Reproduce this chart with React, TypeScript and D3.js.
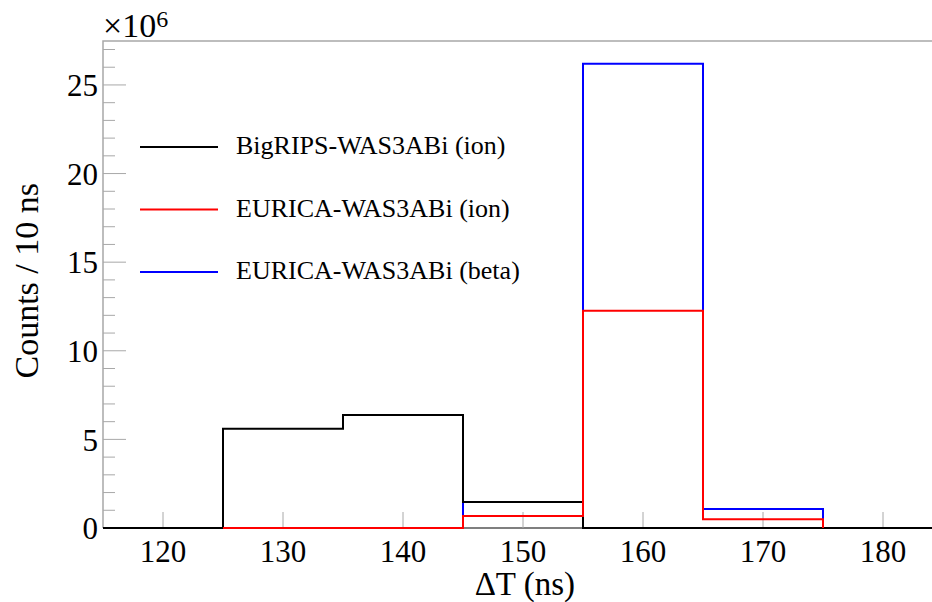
// ΔT histograms: BigRIPS / EURICA vs WAS3ABi
import React, { useEffect, useRef } from 'react';
import * as d3 from 'd3';

// bin edges (ns)
const blackEdges = [115, 125, 135, 145, 155, 165, 175, 185];
const blackCounts = [0, 5.6, 6.38, 1.47, 0, 0, 0]; // x10^6
const euricaEdges = [125, 135, 145, 155, 165, 175];
const redCounts = [0, 0, 0.68, 12.26, 0.5];
const blueCounts = [0, 0, 1.47, 26.2, 1.07];

const xTicks = [120, 130, 140, 150, 160, 170, 180];
const yMajor = [0, 5, 10, 15, 20, 25];

const legendItems = [
  { label: 'BigRIPS-WAS3ABi (ion)', color: '#000000' },
  { label: 'EURICA-WAS3ABi (ion)', color: '#ff0000' },
  { label: 'EURICA-WAS3ABi (beta)', color: '#0000ff' },
];

const width = 932;
const height = 602;
const font = "'Times New Roman', Times, 'Liberation Serif', 'DejaVu Serif', serif";

export default function App() {
  const svgRef = useRef<SVGSVGElement>(null);

  useEffect(() => {
    const svg = d3.select(svgRef.current);
    svg.selectAll('*').remove();

    const left = 103, right = 943, top = 41, bottom = 528;
    const x = d3.scaleLinear().domain([115, 185]).range([left, right]);
    const y = d3.scaleLinear().domain([0, 27.48]).range([bottom, top]);
    const grey = '#a8a8a8';

    // frame
    svg.append('path')
      .attr('d', `M${left},${bottom}V${top}H${right}`)
      .attr('fill', 'none').attr('stroke', grey).attr('stroke-width', 1.5);
    svg.append('line')
      .attr('x1', left).attr('x2', right).attr('y1', bottom).attr('y2', bottom)
      .attr('stroke', '#555').attr('stroke-width', 1.5);

    // y ticks
    const yMinor = d3.range(0, 28, 1);
    svg.append('g').selectAll('line').data(yMinor).join('line')
      .attr('x1', left).attr('x2', d => (d % 5 === 0 ? left + 23 : left + 12))
      .attr('y1', d => y(d)).attr('y2', d => y(d))
      .attr('stroke', grey).attr('stroke-width', 1);
    svg.append('g').selectAll('text').data(yMajor).join('text')
      .attr('x', 98).attr('y', d => y(d)).attr('dy', '0.36em')
      .attr('text-anchor', 'end')
      .attr('font-family', font).attr('font-size', 31)
      .text(d => d);

    // x ticks
    svg.append('g').selectAll('line').data(xTicks).join('line')
      .attr('x1', d => x(d)).attr('x2', d => x(d))
      .attr('y1', bottom).attr('y2', bottom - 16)
      .attr('stroke', grey).attr('stroke-width', 1);
    svg.append('g').selectAll('text').data(xTicks).join('text')
      .attr('x', d => x(d)).attr('y', 562)
      .attr('text-anchor', 'middle')
      .attr('font-family', font).attr('font-size', 31)
      .text(d => d);

    // histograms
    const outline = (edges: number[], vals: number[]) => {
      const pts: [number, number][] = [[edges[0], 0]];
      vals.forEach((v, i) => {
        pts.push([edges[i], v]);
        pts.push([edges[i + 1], v]);
      });
      pts.push([edges[edges.length - 1], 0]);
      return d3.line<[number, number]>().x(d => x(d[0])).y(d => y(d[1]))(pts);
    };
    const hists = [
      { edges: euricaEdges, vals: blueCounts, color: '#0000ff' },
      { edges: blackEdges, vals: blackCounts, color: '#000000' },
      { edges: euricaEdges, vals: redCounts, color: '#ff0000' },
    ];
    hists.forEach(h => {
      svg.append('path')
        .attr('d', outline(h.edges, h.vals))
        .attr('fill', 'none').attr('stroke', h.color).attr('stroke-width', 2);
    });

    // legend
    const lg = svg.append('g');
    legendItems.forEach((item, i) => {
      const ly = 147 + i * 62.5;
      lg.append('line')
        .attr('x1', 140).attr('x2', 218).attr('y1', ly).attr('y2', ly)
        .attr('stroke', item.color).attr('stroke-width', 2);
      lg.append('text')
        .attr('x', 236).attr('y', ly + 7)
        .attr('font-family', font).attr('font-size', 26)
        .text(item.label);
    });

    // axis titles
    svg.append('text')
      .attr('x', 575).attr('y', 595)
      .attr('text-anchor', 'end')
      .attr('font-family', font).attr('font-size', 33)
      .text('ΔT (ns)');
    svg.append('text')
      .attr('transform', 'translate(38,183) rotate(-90)')
      .attr('text-anchor', 'end')
      .attr('font-family', font).attr('font-size', 34)
      .text('Counts / 10 ns');

    // exponent
    const ex = svg.append('text')
      .attr('x', 103).attr('y', 37)
      .attr('font-family', font).attr('font-size', 34);
    ex.append('tspan').text('×10');
    ex.append('tspan').attr('dy', -10).attr('font-size', 24).text('6');
  }, []);

  return (
    <svg
      ref={svgRef}
      width={width}
      height={height}
      style={{ position: 'absolute', left: 0, top: 0, background: '#fff' }}
    />
  );
}
